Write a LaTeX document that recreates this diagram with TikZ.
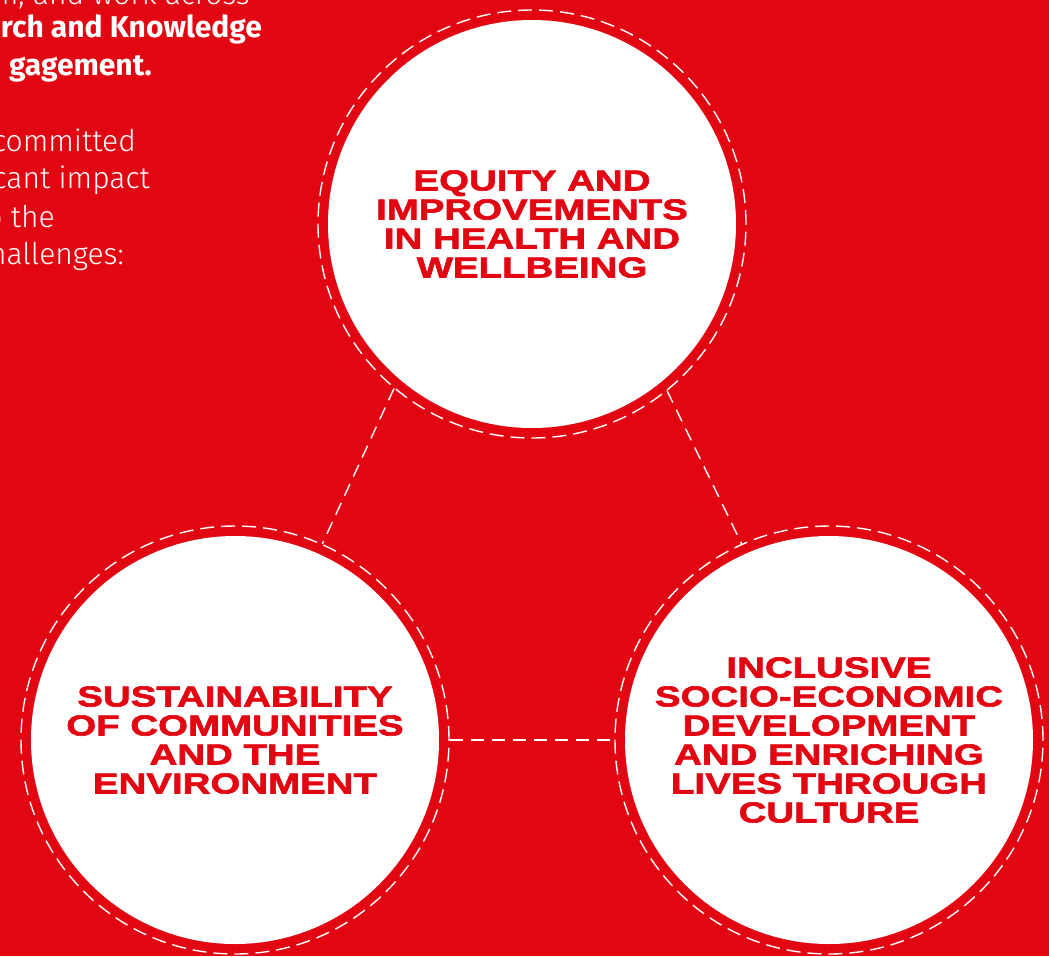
\documentclass[tikz,border=0pt]{standalone}
\usepackage{fontspec}
\setmainfont{Fira Sans}
\newfontfamily\firalight{Fira Sans Light}
\newfontfamily\widefont[FakeStretch=1.33,FakeBold=2.2]{Liberation Sans}
\definecolor{brandred}{RGB}{226,6,19}

\begin{document}
\begin{tikzpicture}[x=1pt,y=1pt]
	\tikzstyle{ring}  = [circle, minimum size=428pt, inner sep=0pt, draw=white, line width=1.4pt, dash pattern=on 14pt off 7pt]
	\tikzstyle{disc}  = [circle, minimum size=408pt, inner sep=0pt, fill=white, text=brandred, align=center, font=\widefont\bfseries\fontsize{28.9}{29}\selectfont]
	\tikzstyle{link}  = [draw=white, line width=1.4pt, dash pattern=on 13pt off 8pt]
	\tikzstyle{intro} = [anchor=base east, inner sep=0pt, text=white]

	\fill[brandred] (0,0) rectangle (1049,-956);
	\clip (0,0) rectangle (1049,-956);

	% running text, cut at the left edge
	\foreach \name/\x/\y/\txt in {l1/250/-4/{m, and work across}, l4/136/-151.5/committed, l5/150/-188.5/cant impact, l6/55/-227/o the, l7/124/-264/hallenges:}
		\node[intro, font=\firalight\fontsize{30}{38}\selectfont] (\name) at (\x,\y) {\txt};

	\foreach \name/\x/\y/\txt in {l2/262/-37/rch and Knowledge, l3/152/-75/gagement.}
		\node[intro, font=\bfseries\fontsize{30}{38}\selectfont] (\name) at (\x,\y) {\txt};

	% the three challenges
	\foreach \name/\x/\y in {health/532/-224, enviro/235/-740, culture/829/-740}
		\node[ring] (\name) at (\x,\y) {};

	\node[disc] (healthtxt) at (health) {EQUITY AND\\IMPROVEMENTS\\IN HEALTH AND\\WELLBEING};
	\node[disc] (envirotxt) at (enviro) {SUSTAINABILITY\\OF COMMUNITIES\\AND THE\\ENVIRONMENT};
	\node[disc] (culturetxt) at (culture) {INCLUSIVE\\SOCIO-ECONOMIC\\DEVELOPMENT\\AND ENRICHING\\LIVES THROUGH\\CULTURE};

	\path[link] (health.230) -- (enviro.66);
	\path[link] (health.309) -- (culture.114);
	\path[link] (enviro.0) -- (culture.180);

\end{tikzpicture}
\end{document}
